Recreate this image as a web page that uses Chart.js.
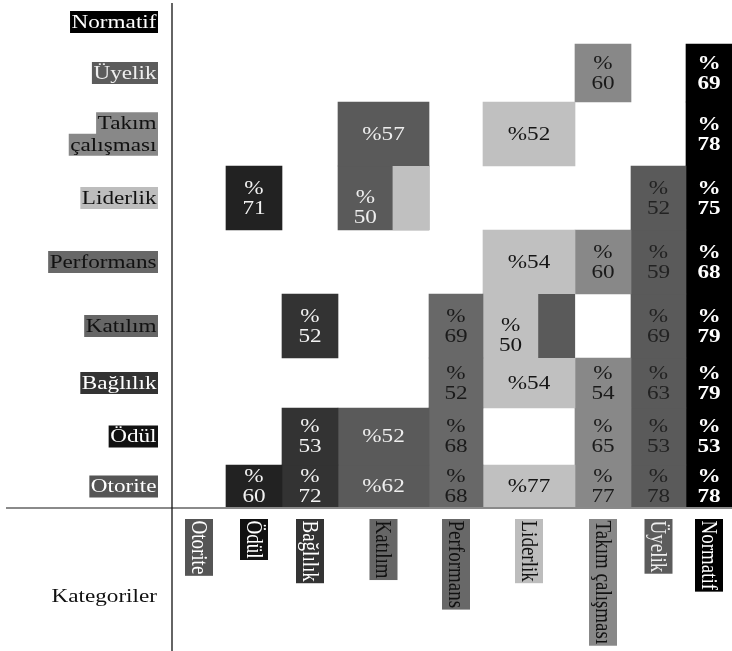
<!DOCTYPE html>
<html>
<head>
<meta charset="utf-8">
<script src="https://cdn.jsdelivr.net/npm/chart.js@4/dist/chart.umd.min.js"></script>
<style>
html,body{margin:0;padding:0;background:#fff;}
#wrap{width:732px;height:651px;position:relative;}
</style>
</head>
<body>
<div id="wrap"><canvas id="c"></canvas></div>
<script>
// ---- DATA ----
const categories = ['Otorite','Ödül','Bağlılık','Katılım','Performans','Liderlik','Takım çalışması','Üyelik','Normatif'];
const axisTitle = 'Kategoriler';
// one series per column category; values listed by row category (Otorite ... Normatif), null = empty cell
const otorite    = [null, null, null, null, null, null, null, null, null];
const odul       = [60,   null, null, null, null, 71,   null, null, null];
const baglilik   = [72,   53,   null, 52,   null, null, null, null, null];
const katilim    = [62,   52,   null, null, null, 50,   57,   null, null];
const performans = [68,   68,   52,   69,   null, null, null, null, null];
const liderlik   = [77,   null, 54,   50,   54,   null, 52,   null, null];
const takim      = [77,   65,   54,   null, 60,   null, null, 60,   null];
const uyelik     = [78,   53,   63,   69,   59,   52,   null, null, null];
const normatif   = [78,   53,   79,   79,   68,   75,   78,   69,   null];
// cells shared with the row category: [column, row]
const sharedCells = [['Katılım','Liderlik'], ['Liderlik','Katılım']];

// ---- LAYOUT / STYLE ----
const layout = {
  colSpan: [54, 56, 56, 91, 54, 92, 56, 55, 46],   // relative column widths
  rowSpan: [43, 57, 50, 64, 64, 64, 64, 58, 44],   // relative row heights (bottom to top)
  splitAt: 0.6,
  sharedDrop: 9,
  stretch: 1.22,
  font: '"Liberation Serif", "Times New Roman", serif',
  size: 19
};
const style = {
  fill:      ['#555555','#222222','#333333','#5a5a5a','#686868','#c0c0c0','#888888','#5a5a5a','#000000'],
  text:      ['#ffffff','#f2f2f2','#f2f2f2','#eeeeee','#1a1a1a','#151515','#1a1a1a','#222222','#ffffff'],
  labelFill: ['#555555','#111111','#333333','#666666','#686868','#bdbdbd','#888888','#5c5c5c','#000000'],
  labelText: ['#ffffff','#ffffff','#ffffff','#111111','#111111','#111111','#111111','#eeeeee','#ffffff']
};

const series = [otorite, odul, baglilik, katilim, performans, liderlik, takim, uyelik, normatif];

function edges(spans) { const e = [0]; spans.forEach(s => e.push(e[e.length - 1] + s)); return e; }
const colEdge = edges(layout.colSpan);
const rowEdge = edges(layout.rowSpan);
const xMax = colEdge[colEdge.length - 1];
const yMax = rowEdge[rowEdge.length - 1];

function pxSpan(chart, a, b) {
  const xs = chart.scales.x;
  if (!xs) return 10;
  return Math.abs(xs.getPixelForValue(b) - xs.getPixelForValue(a));
}
function isShared(c, r) {
  return sharedCells.some(s => categories.indexOf(s[0]) === c && categories.indexOf(s[1]) === r);
}

const datasets = series.map((vals, c) => ({
  label: categories[c],
  order: 1,
  data: vals.map((v, r) => v == null ? null : {
    x: (colEdge[c] + colEdge[c + 1]) / 2,
    y: [rowEdge[r], rowEdge[r + 1]],
    v: v, r: r
  }).filter(Boolean),
  backgroundColor: style.fill[c],
  borderWidth: 0,
  grouped: false,
  barThickness: ctx => pxSpan(ctx.chart, colEdge[c], colEdge[c + 1])
}));

// overlay parts of shared cells, in the row category's shade (drawn on top)
sharedCells.forEach(([colName, rowName]) => {
  const c = categories.indexOf(colName), r = categories.indexOf(rowName);
  const a = colEdge[c] + (colEdge[c + 1] - colEdge[c]) * layout.splitAt;
  const b = colEdge[c + 1];
  datasets.push({
    label: colName + ' / ' + rowName,
    order: 0,
    data: [{ x: (a + b) / 2, y: [rowEdge[r], rowEdge[r + 1]] }],
    backgroundColor: style.fill[r],
    borderWidth: 0,
    inflateAmount: 0,
    grouped: false,
    barThickness: ctx => pxSpan(ctx.chart, a, b)
  });
});

function drawStretched(ctx, str, x, y) {
  ctx.save();
  ctx.translate(x, y);
  ctx.scale(layout.stretch, 1);
  ctx.fillText(str, 0, 0);
  ctx.restore();
}

const decor = {
  id: 'decor',
  afterDatasetsDraw(chart) {
    const ctx = chart.ctx;
    ctx.save();
    ctx.textAlign = 'center';
    ctx.textBaseline = 'middle';
    for (let c = 0; c < series.length; c++) {
      const meta = chart.getDatasetMeta(c);
      const ds = chart.data.datasets[c];
      meta.data.forEach((el, j) => {
        const d = ds.data[j];
        const p = el.getProps(['x', 'y', 'base', 'width'], true);
        const shared = isShared(c, d.r);
        const w = shared ? p.width * layout.splitAt : p.width;
        const cx = p.x - p.width / 2 + w / 2;
        const cy = (p.y + p.base) / 2 + (shared ? layout.sharedDrop : 0);
        const lines = w > 70 ? ['%' + d.v] : ['%', String(d.v)];
        ctx.font = (c === series.length - 1 ? 'bold ' : '') + layout.size + 'px ' + layout.font;
        ctx.fillStyle = style.text[c];
        lines.forEach((t, k) => drawStretched(ctx, t, cx, cy + 1 + (k - (lines.length - 1) / 2) * 20));
      });
    }
    ctx.restore();
  },
  afterDraw(chart) {
    const ctx = chart.ctx;
    const xs = chart.scales.x, ys = chart.scales.y;
    const axisX = xs.left, axisY = ys.bottom;
    ctx.save();
    // divider lines
    ctx.strokeStyle = '#8a8a8a';
    ctx.lineWidth = 2;
    ctx.beginPath(); ctx.moveTo(6, axisY); ctx.lineTo(chart.width, axisY); ctx.stroke();
    ctx.strokeStyle = '#111';
    ctx.lineWidth = 1.3;
    ctx.beginPath(); ctx.moveTo(axisX, 3); ctx.lineTo(axisX, chart.height); ctx.stroke();

    ctx.font = layout.size + 'px ' + layout.font;
    ctx.textBaseline = 'middle';
    // row labels (left)
    categories.forEach((name, r) => {
      const cy = ys.getPixelForValue((rowEdge[r] + rowEdge[r + 1]) / 2);
      const lines = name.split(' ');
      const right = axisX - 15;
      lines.forEach((t, k) => {
        const ly = cy + (k - (lines.length - 1) / 2) * 21.5;
        const tw = ctx.measureText(t).width * layout.stretch;
        ctx.fillStyle = style.labelFill[r];
        ctx.fillRect(right - tw - 2, ly - 11, tw + 3, 22);
        ctx.fillStyle = style.labelText[r];
        ctx.textAlign = 'left';
        drawStretched(ctx, t, right - tw - 0.5, ly + 1);
      });
    });
    // column labels (below, rotated)
    categories.forEach((name, c) => {
      const cx = xs.getPixelForValue((colEdge[c] + colEdge[c + 1]) / 2);
      const top = axisY + 11;
      const tw = ctx.measureText(name).width;
      ctx.save();
      ctx.translate(cx, top);
      ctx.rotate(Math.PI / 2);
      ctx.fillStyle = style.labelFill[c];
      ctx.fillRect(0, -14, tw + 3, 28);
      ctx.scale(1, layout.stretch);
      ctx.fillStyle = style.labelText[c];
      ctx.textAlign = 'left';
      ctx.fillText(name, 1.5, 1);
      ctx.restore();
    });
    // axis title
    ctx.fillStyle = '#111';
    ctx.textAlign = 'left';
    const tw = ctx.measureText(axisTitle).width * layout.stretch;
    drawStretched(ctx, axisTitle, axisX - 15 - tw, axisY + 89);
    ctx.restore();
  }
};

new Chart(document.getElementById('c'), {
  type: 'bar',
  data: { datasets },
  options: {
    responsive: true,
    maintainAspectRatio: false,
    animation: false,
    layout: { padding: 0 },
    plugins: { legend: { display: false }, tooltip: { enabled: false } },
    scales: {
      x: {
        type: 'linear', min: 0, max: xMax, offset: false,
        grid: { display: false }, border: { display: false },
        ticks: { display: false },
        afterFit: s => { s.height = 143; s.paddingLeft = 0; s.paddingRight = 0; }
      },
      y: {
        type: 'linear', min: 0, max: yMax,
        grid: { display: false }, border: { display: false },
        ticks: { display: false },
        afterFit: s => { s.width = 172; s.paddingTop = 0; s.paddingBottom = 0; }
      }
    }
  },
  plugins: [decor]
});
</script>
</body>
</html>
